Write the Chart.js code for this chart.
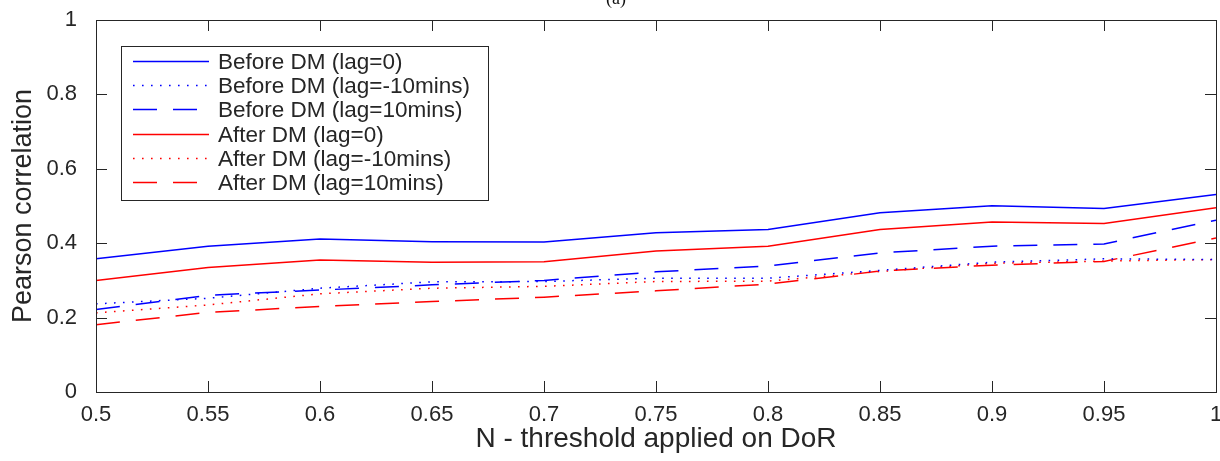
<!DOCTYPE html>
<html>
<head>
<meta charset="utf-8">
<script src="https://cdn.jsdelivr.net/npm/chart.js@4.4.1/dist/chart.umd.min.js"></script>
<style>
  html, body { margin: 0; padding: 0; background: #fff; }
  #wrap { width: 1220px; height: 461px; position: relative; }
</style>
</head>
<body>
<div id="wrap"><canvas id="corrChart"></canvas></div>
<script>
// Threshold N applied on DoR (x axis)
const thresholds = [0.5, 0.55, 0.6, 0.65, 0.7, 0.75, 0.8, 0.85, 0.9, 0.95, 1];

// Pearson correlation per threshold
const beforeLag0   = [0.358, 0.392, 0.411, 0.404, 0.403, 0.428, 0.437, 0.482, 0.501, 0.493, 0.531];
const beforeLagM10 = [0.237, 0.252, 0.279, 0.296, 0.297, 0.306, 0.306, 0.327, 0.349, 0.358, 0.356];
const beforeLag10  = [0.222, 0.260, 0.274, 0.288, 0.300, 0.323, 0.339, 0.374, 0.392, 0.398, 0.462];
const afterLag0    = [0.300, 0.335, 0.355, 0.349, 0.350, 0.379, 0.392, 0.437, 0.457, 0.453, 0.495];
const afterLagM10  = [0.213, 0.234, 0.264, 0.279, 0.284, 0.297, 0.298, 0.324, 0.346, 0.352, 0.356];
const afterLag10   = [0.181, 0.214, 0.230, 0.243, 0.255, 0.272, 0.290, 0.325, 0.341, 0.351, 0.414];

const seriesLabels = [
  'Before DM (lag=0)',
  'Before DM (lag=-10mins)',
  'Before DM (lag=10mins)',
  'After DM (lag=0)',
  'After DM (lag=-10mins)',
  'After DM (lag=10mins)'
];

// Tick values on both axes
const xTicks = [0.5, 0.55, 0.6, 0.65, 0.7, 0.75, 0.8, 0.85, 0.9, 0.95, 1];
const yTicks = [0, 0.2, 0.4, 0.6, 0.8, 1];

const BLUE = '#0000ff';
const RED = '#ff0000';
const AXIS = '#262626';
const FONT = '"Liberation Sans", Arial, Helvetica, sans-serif';
const SOLID = [];
const DOTTED = [1.6, 7.4];
const DASHED = [24, 16];

function makeSet(label, values, color, dash) {
  return {
    label: label,
    data: thresholds.map((x, i) => ({ x: x, y: values[i] })),
    borderColor: color,
    backgroundColor: color,
    borderWidth: 1.5,
    borderDash: dash,
    pointRadius: 0,
    fill: false,
    tension: 0
  };
}

// no extra room for the end labels, the axes run to the canvas edge
function noScalePadding(scale) {
  scale.paddingLeft = 0;
  scale.paddingRight = 0;
  scale.paddingTop = 0;
  scale.paddingBottom = 0;
}

// Axes box with MATLAB-style inward ticks on all four sides
const boxPlugin = {
  id: 'boxAxes',
  afterDatasetsDraw(chart) {
    const { ctx, chartArea: a, scales } = chart;
    const len = 11;
    ctx.save();
    ctx.strokeStyle = AXIS;
    ctx.lineWidth = 1;
    ctx.beginPath();
    xTicks.forEach(v => {
      const px = Math.round(scales.x.getPixelForValue(v)) + 0.5;
      ctx.moveTo(px, a.bottom); ctx.lineTo(px, a.bottom - len);
      ctx.moveTo(px, a.top); ctx.lineTo(px, a.top + len);
    });
    yTicks.forEach(v => {
      const py = Math.round(scales.y.getPixelForValue(v)) + 0.5;
      ctx.moveTo(a.left, py); ctx.lineTo(a.left + len, py);
      ctx.moveTo(a.right, py); ctx.lineTo(a.right - len, py);
    });
    ctx.stroke();
    ctx.strokeRect(Math.round(a.left) + 0.5, Math.round(a.top) + 0.5,
                   Math.round(a.right - a.left), Math.round(a.bottom - a.top));
    ctx.restore();
  }
};

// Boxed legend in the top-left corner of the plot
const legendPlugin = {
  id: 'boxLegend',
  afterDraw(chart) {
    const { ctx, chartArea: a } = chart;
    const left = a.left + 25, top = a.top + 26;
    const w = 367, h = 154, rowH = 24.2, padTop = 15;
    ctx.save();
    ctx.fillStyle = '#fff';
    ctx.fillRect(left, top, w, h);
    ctx.strokeStyle = AXIS;
    ctx.lineWidth = 1;
    ctx.setLineDash([]);
    ctx.strokeRect(Math.round(left) + 0.5, Math.round(top) + 0.5, w, h);
    ctx.font = '22.5px ' + FONT;
    ctx.textBaseline = 'middle';
    chart.data.datasets.forEach((ds, i) => {
      const y = Math.round(top + padTop + i * rowH) + 0.5;
      ctx.strokeStyle = ds.borderColor;
      ctx.lineWidth = ds.borderWidth;
      ctx.setLineDash(ds.borderDash);
      ctx.beginPath();
      ctx.moveTo(left + 12, y);
      ctx.lineTo(left + 88, y);
      ctx.stroke();
      ctx.fillStyle = AXIS;
      ctx.fillText(ds.label, left + 97, y + 1);
    });
    ctx.restore();
  }
};

// Panel tag above the axes, partly cut by the top edge
const tagPlugin = {
  id: 'panelTag',
  afterDraw(chart) {
    const { ctx } = chart;
    ctx.save();
    ctx.font = '18px "Liberation Serif", "DejaVu Serif", serif';
    ctx.fillStyle = '#111';
    ctx.textAlign = 'center';
    ctx.textBaseline = 'alphabetic';
    ctx.fillText('(a)', 616, 4);
    ctx.restore();
  }
};

new Chart(document.getElementById('corrChart'), {
  type: 'line',
  data: {
    datasets: [
      makeSet(seriesLabels[0], beforeLag0, BLUE, SOLID),
      makeSet(seriesLabels[1], beforeLagM10, BLUE, DOTTED),
      makeSet(seriesLabels[2], beforeLag10, BLUE, DASHED),
      makeSet(seriesLabels[3], afterLag0, RED, SOLID),
      makeSet(seriesLabels[4], afterLagM10, RED, DOTTED),
      makeSet(seriesLabels[5], afterLag10, RED, DASHED)
    ]
  },
  options: {
    responsive: true,
    maintainAspectRatio: false,
    animation: false,
    layout: { padding: { top: 20, right: 4, left: 0, bottom: 0 } },
    plugins: {
      legend: { display: false },
      tooltip: { enabled: false }
    },
    scales: {
      x: {
        type: 'linear',
        min: 0.5,
        max: 1,
        afterBuildTicks: scale => { scale.ticks = xTicks.map(v => ({ value: v })); },
        afterFit: scale => { scale.height = 69; noScalePadding(scale); },
        grid: { display: false },
        border: { display: false },
        ticks: {
          padding: 2,
          color: AXIS,
          font: { family: FONT, size: 22 },
          maxRotation: 0,
          autoSkip: false,
          callback: v => String(v)
        },
        title: {
          display: true,
          text: 'N - threshold applied on DoR',
          color: AXIS,
          font: { family: FONT, size: 28 },
          padding: { top: 0, bottom: 5 }
        }
      },
      y: {
        type: 'linear',
        min: 0,
        max: 1,
        afterBuildTicks: scale => { scale.ticks = yTicks.map(v => ({ value: v })); },
        afterFit: scale => { scale.width = 96; noScalePadding(scale); },
        grid: { display: false },
        border: { display: false },
        ticks: {
          padding: 11,
          color: AXIS,
          font: { family: FONT, size: 22 },
          callback: v => String(v)
        },
        title: {
          display: true,
          text: 'Pearson correlation',
          color: AXIS,
          font: { family: FONT, size: 27 },
          padding: { top: 7, bottom: 0 }
        }
      }
    }
  },
  plugins: [boxPlugin, legendPlugin, tagPlugin]
});
</script>
</body>
</html>
